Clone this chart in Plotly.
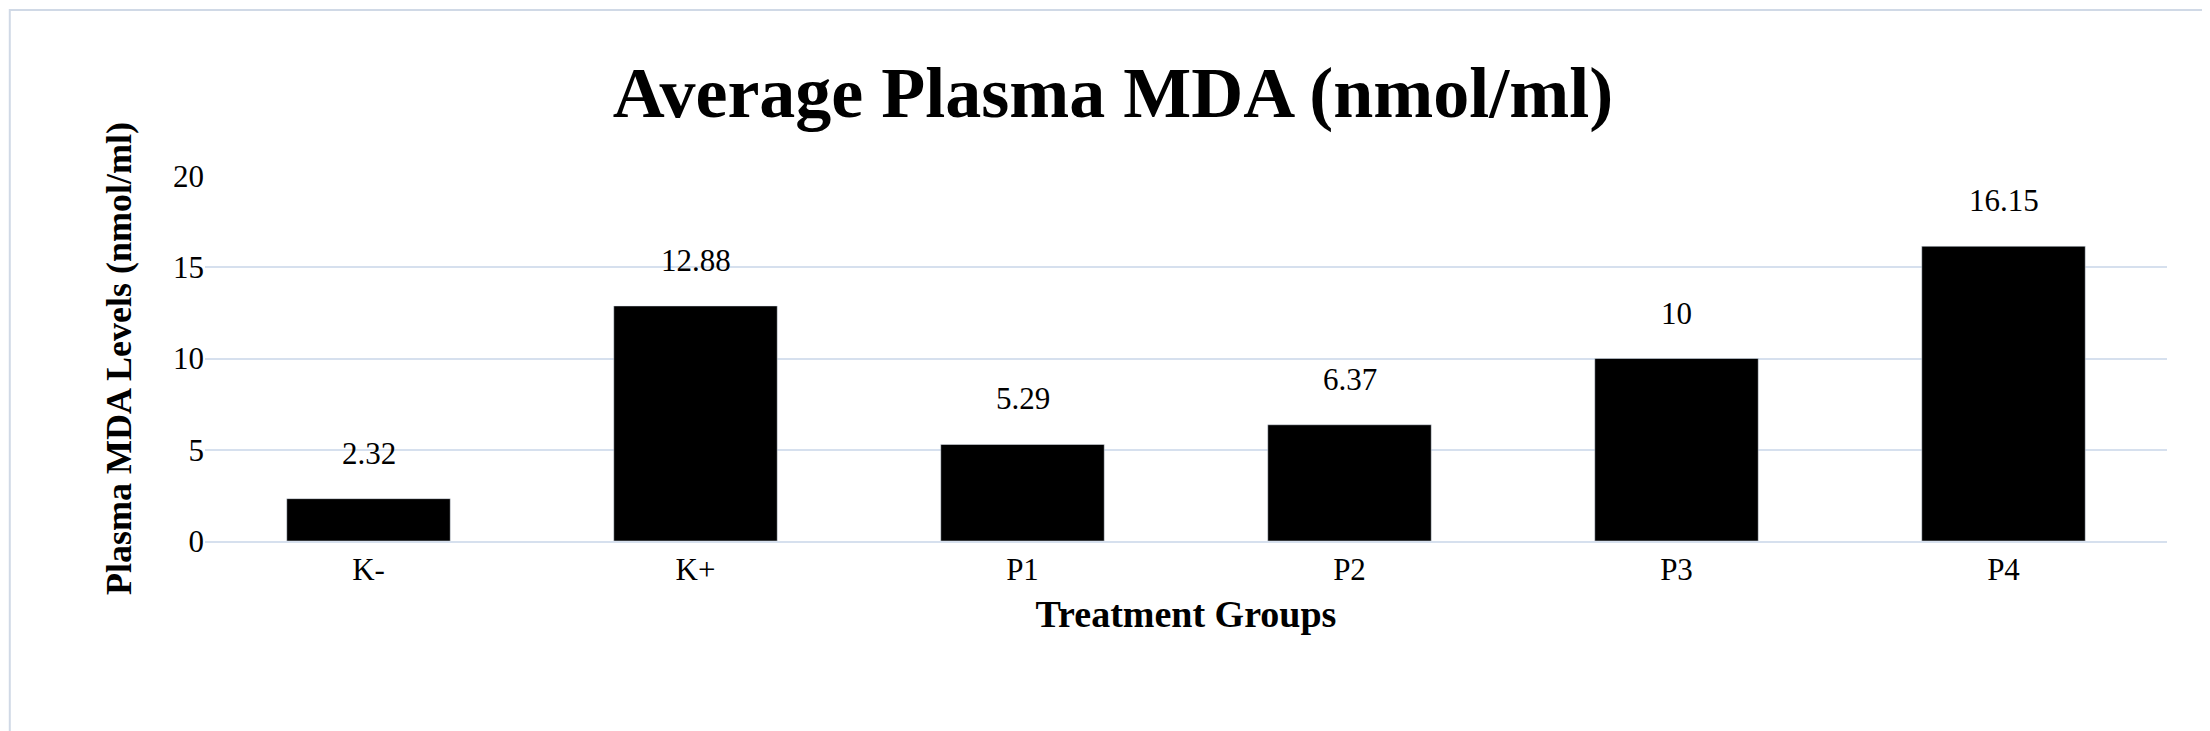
import plotly.graph_objects as go

groups = ["K-", "K+", "P1", "P2", "P3", "P4"]
mda = [2.32, 12.88, 5.29, 6.37, 10, 16.15]
labels = ["2.32", "12.88", "5.29", "6.37", "10", "16.15"]

font = "Liberation Serif, Times New Roman, serif"

fig = go.Figure()
fig.add_trace(go.Bar(x=groups, y=mda, marker_color="black"))

for g, v, t in zip(groups, mda, labels):
    fig.add_annotation(x=g, y=v, text=t, showarrow=False, yanchor="bottom",
                       yshift=26, font=dict(size=31, color="black"))

fig.update_layout(
    width=2210, height=731,
    margin=dict(l=197, r=51, t=168, b=198),
    paper_bgcolor="white", plot_bgcolor="white",
    font=dict(family=font, color="black"),
    bargap=0.5,
    showlegend=False,
    title=dict(text="<b>Average Plasma MDA (nmol/ml)</b>", x=0.5, xanchor="center",
               y=0.885, yanchor="middle", font=dict(size=72)),
    shapes=[dict(type="rect", xref="paper", yref="paper", x0=-0.0995, x1=1.0245,
                 y0=-0.536, y1=1.455, line=dict(color="#D0D9E6", width=2))],
)
fig.update_yaxes(range=[0, 20], dtick=5, showgrid=True, gridcolor="#D6E0EE", gridwidth=2,
                 zeroline=False, tickfont=dict(size=31),
                 title=dict(text="<b>Plasma MDA Levels (nmol/ml)</b>", font=dict(size=36), standoff=30))
fig.update_xaxes(showline=True, linecolor="#D6E0EE", linewidth=2, tickfont=dict(size=31),
                 title=dict(text="<b>Treatment Groups</b>", font=dict(size=38), standoff=14))

fig.write_html("out.html")
